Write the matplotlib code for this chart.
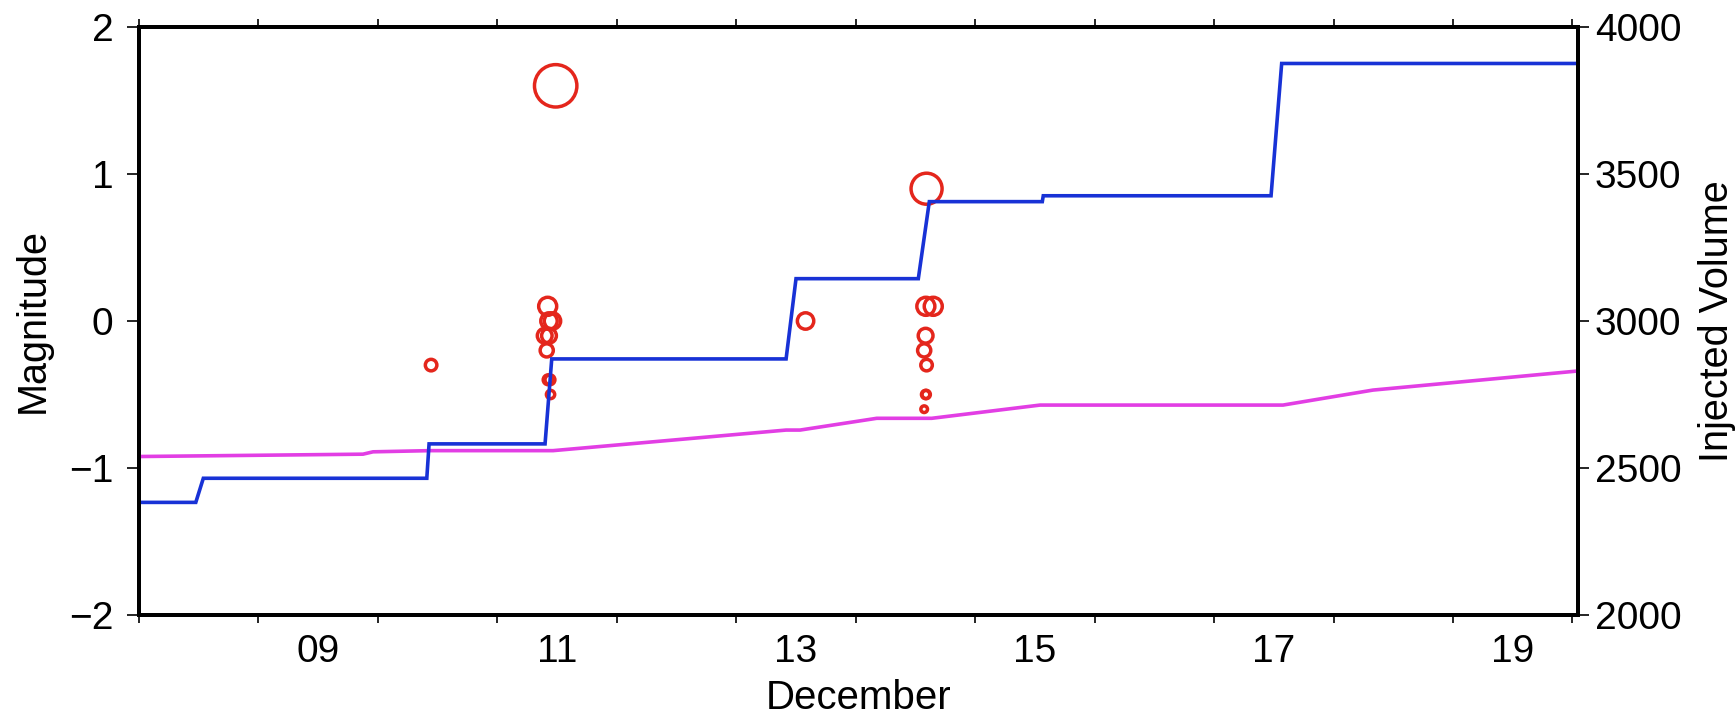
import matplotlib
matplotlib.use("Agg")
import matplotlib.pyplot as plt
import numpy as np

plt.rcParams["font.family"] = ["Liberation Sans", "DejaVu Sans"]

# event catalogue: time (day of December, fractional) and magnitude
event_day = [10.445, 11.421, 11.432, 11.461, 11.396, 11.432, 11.413, 11.425,
             11.440, 11.445, 11.488, 13.580, 14.587, 14.649, 14.585, 14.573,
             14.593, 14.585, 14.590, 14.573, 14.593]
event_mag = [-0.3, 0.1, 0.0, 0.0, -0.1, -0.1, -0.2, -0.4,
             -0.4, -0.5, 1.6, 0.0, 0.1, 0.1, -0.1, -0.2,
             -0.3, -0.5, -0.5, -0.6, 0.9]

# cumulative injected volume, well 1 (blue) and well 2 (magenta)
vol_a_day = [8.0, 8.475, 8.538, 10.409, 10.428, 11.399, 11.455, 13.417,
             13.500, 14.524, 14.616, 15.562, 15.570, 17.477, 17.566, 20.047]
vol_a = [2383, 2383, 2465, 2465, 2582, 2582, 2871, 2871,
         3144, 3144, 3406, 3406, 3426, 3426, 3876, 3876]

vol_b_day = [8.0, 9.875, 9.959, 10.436, 11.466, 13.417, 13.534, 14.176,
             14.636, 15.543, 17.577, 18.330, 20.047]
vol_b = [2539, 2547, 2555, 2559, 2559, 2629, 2629, 2669,
         2669, 2714, 2714, 2765, 2830]

day_ticks = list(range(8, 21))
day_labels = ["09", "11", "13", "15", "17", "19"]

RED = "#e4261c"
BLUE = "#1832d6"
MAGENTA = "#e23ee4"

fig = plt.figure(figsize=(17.36, 7.15), dpi=100)
ax = fig.add_axes([0.0801, 0.1399, 0.8289, 0.8223])

# circle diameter grows with magnitude
mag = np.asarray(event_mag)
diam_pt = (16.4 + 16.25 * mag) * 0.72
ax.scatter(event_day, event_mag, s=diam_pt ** 2, facecolors="none",
           edgecolors=RED, linewidths=2.5, zorder=3)

ax.set_xlim(8.0, 20.047)
ax.set_ylim(-2, 2)
ax.set_yticks([-2, -1, 0, 1, 2])
ax.set_xticks(day_ticks)
ax.set_xticklabels([])
ax.set_xticks([int(d) + 0.5 for d in day_labels], minor=True)
ax.set_xticklabels(day_labels, minor=True)

ax.tick_params(axis="x", which="major", direction="out", length=6, width=1.2,
               top=True, bottom=True)
ax.tick_params(axis="x", which="minor", length=0, pad=14, labelsize=28)
ax.tick_params(axis="y", which="major", direction="out", length=8.5, width=1.2,
               pad=10, labelsize=28)
for sp in ax.spines.values():
    sp.set_linewidth(2.8)

ax.set_ylabel("Magnitude", fontsize=28.5, labelpad=12)
ax.set_xlabel("December", fontsize=29, labelpad=6)

ax2 = ax.twinx()
ax2.plot(vol_b_day, vol_b, color=MAGENTA, lw=2.6, solid_joinstyle="miter")
ax2.plot(vol_a_day, vol_a, color=BLUE, lw=2.6, solid_joinstyle="miter")
ax2.set_ylim(2000, 4000)
ax2.set_yticks([2000, 2500, 3000, 3500, 4000])
ax2.tick_params(axis="y", direction="out", length=8, width=1.2, pad=4,
                labelsize=28)
for sp in ax2.spines.values():
    sp.set_linewidth(2.8)
ax2.set_ylabel("Injected Volume", fontsize=28.5, labelpad=12)

fig.savefig("out.png", dpi=100)
